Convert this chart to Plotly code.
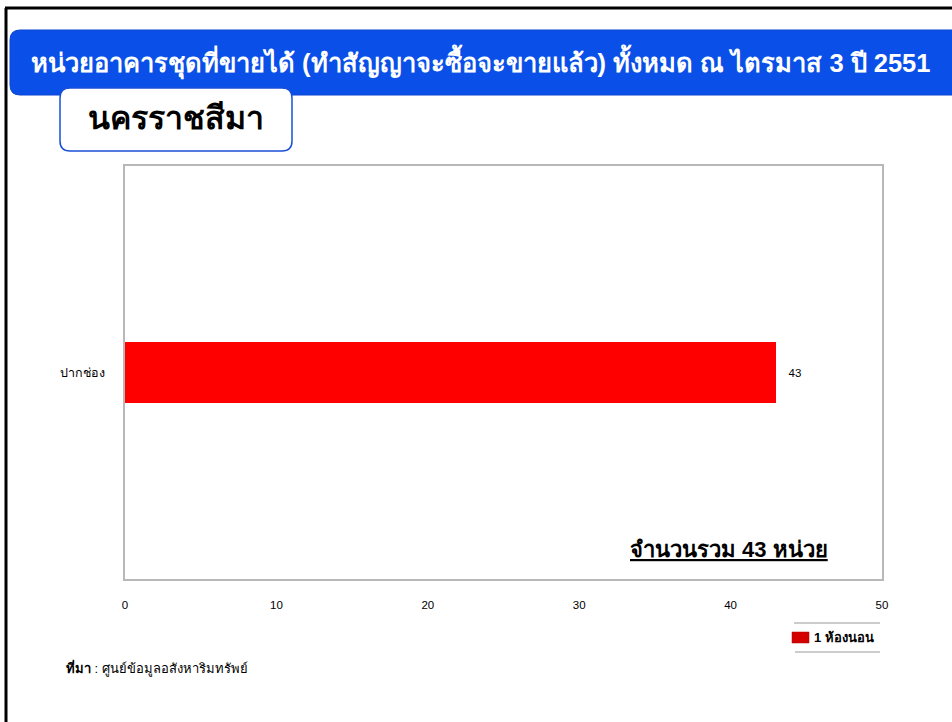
import plotly.graph_objects as go

categories = ["ปากช่อง"]
values_1br = [43]
series_name = "1 ห้องนอน"
x_ticks = [0, 10, 20, 30, 40, 50]
title_text = "หน่วยอาคารชุดที่ขายได้ (ทำสัญญาจะซื้อจะขายแล้ว) ทั้งหมด ณ ไตรมาส 3 ปี 2551"
province = "นครราชสีมา"
total_text = "จำนวนรวม 43 หน่วย"
source_text = "<b>ที่มา</b> : ศูนย์ข้อมูลอสังหาริมทรัพย์"

W, H = 952, 722
L, R, T, B = 125, 70, 166, 143
PW, PH = W - L - R, H - T - B

def px_x(p):
    return (p - L) / PW

def px_y(p):
    return (H - B - p) / PH

FONT = "Liberation Sans, Arial, sans-serif"

fig = go.Figure()
fig.add_trace(go.Bar(
    y=categories, x=values_1br, orientation="h", name=series_name,
    marker=dict(color="#ff0000", line=dict(width=0)),
    width=0.15,
    texttemplate="\u00a0\u00a0\u00a0%{x}", textposition="outside",
    textfont=dict(size=11.5, color="#000", family=FONT),
    cliponaxis=False,
))


def rounded(x0, y0, x1, y1, r):
    X = lambda v: px_x(v)
    Y = lambda v: px_y(v)
    return (f"M {X(x0+r)},{Y(y0)} L {X(x1-r)},{Y(y0)} Q {X(x1)},{Y(y0)} {X(x1)},{Y(y0+r)} "
            f"L {X(x1)},{Y(y1-r)} Q {X(x1)},{Y(y1)} {X(x1-r)},{Y(y1)} "
            f"L {X(x0+r)},{Y(y1)} Q {X(x0)},{Y(y1)} {X(x0)},{Y(y1-r)} "
            f"L {X(x0)},{Y(y0+r)} Q {X(x0)},{Y(y0)} {X(x0+r)},{Y(y0)} Z")

shapes = [
    dict(type="line", xref="paper", yref="paper", x0=px_x(6), x1=px_x(6), y0=px_y(8), y1=px_y(722),
         line=dict(color="#000", width=3)),
    dict(type="line", xref="paper", yref="paper", x0=px_x(5), x1=px_x(952), y0=px_y(8), y1=px_y(8),
         line=dict(color="#000", width=3)),
    dict(type="path", xref="paper", yref="paper", path=rounded(10, 30, 962, 95, 10),
         fillcolor="#0a50e8", line=dict(color="#0a44d0", width=1), layer="above"),
    dict(type="path", xref="paper", yref="paper", path=rounded(60, 88, 292, 151, 10),
         fillcolor="#ffffff", line=dict(color="#1a4fd8", width=1.5), layer="above"),
    dict(type="line", xref="paper", yref="paper", x0=px_x(794), x1=px_x(880), y0=px_y(623), y1=px_y(623),
         line=dict(color="#bbbbbb", width=1.5), layer="above"),
    dict(type="line", xref="paper", yref="paper", x0=px_x(795), x1=px_x(880), y0=px_y(652), y1=px_y(652),
         line=dict(color="#bbbbbb", width=1.5), layer="above"),
    dict(type="rect", xref="paper", yref="paper", x0=px_x(792), x1=px_x(809), y0=px_y(632), y1=px_y(643),
         fillcolor="#d40000", line=dict(color="#b00000", width=0.5), layer="above"),
]

annotations = [
    dict(text=f"<b>{title_text}</b>", xref="paper", yref="paper", x=px_x(481), y=px_y(62),
         xanchor="center", yanchor="middle", showarrow=False,
         font=dict(size=25.5, color="#ffffff", family=FONT)),
    dict(text=f"<b>{province}</b>", xref="paper", yref="paper", x=px_x(176), y=px_y(118),
         xanchor="center", yanchor="middle", showarrow=False,
         font=dict(size=32, color="#000000", family=FONT)),
    dict(text=f"<b><u>{total_text}</u></b>", xref="paper", yref="paper", x=px_x(830), y=px_y(549),
         xanchor="right", yanchor="middle", showarrow=False,
         font=dict(size=22, color="#000000", family=FONT)),
    dict(text=f"<b>{series_name}</b>", xref="paper", yref="paper", x=px_x(812), y=px_y(637),
         xanchor="left", yanchor="middle", showarrow=False,
         font=dict(size=13, color="#000000", family=FONT)),
    dict(text=source_text, xref="paper", yref="paper", x=px_x(64), y=px_y(668),
         xanchor="left", yanchor="middle", showarrow=False,
         font=dict(size=13, color="#000000", family=FONT)),
]

fig.update_layout(
    width=W, height=H,
    margin=dict(l=L, r=R, t=T, b=B, pad=0),
    paper_bgcolor="#ffffff", plot_bgcolor="#ffffff",
    showlegend=False,
    shapes=shapes, annotations=annotations,
    font=dict(family=FONT, size=11, color="#000"),
    xaxis=dict(range=[0, 50], tickvals=x_ticks, showgrid=False, zeroline=False,
               showline=True, mirror=True, linecolor="#b8b8b8", linewidth=2,
               ticks="", ticklabelstandoff=14, tickfont=dict(size=11.5, family=FONT)),
    yaxis=dict(showgrid=False, zeroline=False, showline=True, mirror=True,
               linecolor="#b8b8b8", linewidth=2, ticks="", ticklabelstandoff=16,
               tickfont=dict(size=12.5, family=FONT)),
    bargap=0,
)

fig.write_html("out.html", config={"displayModeBar": False},
               post_script="document.body.style.margin='0';document.body.style.overflow='hidden';")
